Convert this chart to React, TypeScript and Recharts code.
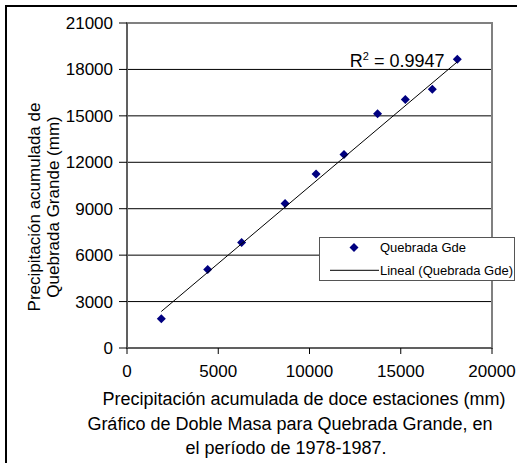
import React from "react";
import {
  ScatterChart,
  Scatter,
  XAxis,
  YAxis,
  CartesianGrid,
  Legend,
  ReferenceArea,
  ReferenceDot,
} from "recharts";

const doceEstaciones = [1880, 4420, 6280, 8660, 10360, 11890, 13730, 15250, 16730, 18100];
const quebradaGde = [1890, 5070, 6810, 9330, 11240, 12510, 15130, 16060, 16720, 18660];
const trendX = [1880, 18100];
const trendY = [2360, 18490];
const xTicks = [0, 5000, 10000, 15000, 20000];
const yTicks = [0, 3000, 6000, 9000, 12000, 15000, 18000, 21000];
const r2Label = { x: 17400, y: 18160, base: "R", sup: "2", rest: " = 0.9947" };
const seriesName = "Quebrada Gde";
const trendName = "Lineal (Quebrada Gde)";
const xTitle = "Precipitación acumulada de doce estaciones (mm)";
const captionLines = ["Gráfico de Doble Masa para Quebrada Grande, en", "el período de 1978-1987."];
const yTitleLines = ["Precipitación acumulada de", "Quebrada Grande (mm)"];

const points = doceEstaciones.map((x, i) => ({ x, y: quebradaGde[i] }));
const trend = trendX.map((x, i) => ({ x, y: trendY[i] }));

const FONT = '"Liberation Sans", Arial, sans-serif';
const NAVY = "#000080";

const Diamond = (props: any) => {
  const { cx, cy } = props;
  if (cx == null || cy == null) return null;
  const h = 4.5;
  return (
    <polygon
      points={`${cx},${cy - h} ${cx + h},${cy} ${cx},${cy + h} ${cx - h},${cy}`}
      fill={NAVY}
    />
  );
};

const XTitle = (props: any) => {
  const vb = props.viewBox || {};
  const y0 = vb.y ?? 348;
  return (
    <g fontFamily={FONT} fontSize={18} fill="#000">
      <text x={304} y={y0 + 57} textAnchor="middle">{xTitle}</text>
      <text x={290} y={y0 + 82} textAnchor="middle">{captionLines[0]}</text>
      <text x={286} y={y0 + 106} textAnchor="middle">{captionLines[1]}</text>
    </g>
  );
};

const YTitle = () => {
  const cy = 207;
  return (
    <g fontFamily={FONT} fontSize={17} fill="#000">
      <text x={40} y={cy} transform={`rotate(-90 40 ${cy})`} textAnchor="middle">
        {yTitleLines[0]}
      </text>
      <text x={59} y={cy} transform={`rotate(-90 59 ${cy})`} textAnchor="middle">
        {yTitleLines[1]}
      </text>
    </g>
  );
};

const R2Shape = (props: any) => {
  const { cx, cy } = props;
  if (cx == null || cy == null) return null;
  return (
    <text x={cx} y={cy} textAnchor="end" fontFamily={FONT} fontSize={18} fill="#000">
      {r2Label.base}
      <tspan dy={-7} fontSize={11}>{r2Label.sup}</tspan>
      <tspan dy={7}>{r2Label.rest}</tspan>
    </text>
  );
};

const LegendContent = (props: any) => {
  const payload = [...(props.payload || [])].sort(
    (a: any, b: any) => (a.type === "line" ? 1 : 0) - (b.type === "line" ? 1 : 0)
  );
  return (
    <div
      style={{
        width: 196,
        height: 44,
        border: "1.5px solid #555",
        boxSizing: "border-box",
        background: "#fff",
        position: "relative",
      }}
    >
      <svg width={196} height={44} style={{ position: "absolute", left: -1.5, top: -1.5 }}>
        {payload.map((p: any, i: number) => {
          const cy = i === 0 ? 10.6 : 33.3;
          const isLine = p.type === "line";
          return (
            <g key={i}>
              {isLine ? (
                <line x1={11} x2={60} y1={cy} y2={cy} stroke="#000" strokeWidth={1} />
              ) : (
                <Diamond cx={35} cy={cy} />
              )}
              <text x={61} y={cy} dy="0.36em" fontFamily={FONT} fontSize={13} fill="#000">
                {p.value}
              </text>
            </g>
          );
        })}
      </svg>
    </div>
  );
};

export default function App() {
  return (
    <div
      style={{
        position: "absolute",
        left: 0,
        top: 0,
        width: 517,
        height: 463,
        overflow: "hidden",
        background: "#fff",
      }}
    >
      <div
        style={{
          position: "absolute",
          left: 5,
          top: 5,
          width: 540,
          height: 500,
          border: "2px solid #000",
        }}
      />
      <div style={{ position: "absolute", left: 0, top: 0 }}>
        <ScatterChart
          width={517}
          height={463}
          margin={{ top: 23, right: 25, bottom: 0, left: 0 }}
        >
          <CartesianGrid horizontal vertical={false} stroke="#000" strokeWidth={1} />
          <ReferenceArea
            x1={0}
            x2={20000}
            y1={0}
            y2={21000}
            fill="none"
            fillOpacity={0}
            stroke="#808080"
            strokeWidth={2}
            ifOverflow="visible"
          />
          <XAxis
            type="number"
            dataKey="x"
            domain={[0, 20000]}
            ticks={xTicks}
            interval={0}
            height={115}
            tickSize={6}
            tickMargin={11}
            axisLine={{ stroke: "#606060", strokeWidth: 2 }}
            tickLine={{ stroke: "#000" }}
            tick={{ fill: "#000", fontSize: 17, fontFamily: FONT }}
            label={<XTitle />}
            allowDataOverflow
          />
          <YAxis
            type="number"
            dataKey="y"
            domain={[0, 21000]}
            ticks={yTicks}
            interval={0}
            width={127}
            tickSize={8}
            tickMargin={6}
            axisLine={{ stroke: "#606060", strokeWidth: 2 }}
            tickLine={{ stroke: "#000" }}
            tick={{ fill: "#000", fontSize: 17, fontFamily: FONT }}
            label={<YTitle />}
            allowDataOverflow
          />
          <Legend
            layout="vertical"
            align="center"
            verticalAlign="middle"
            content={<LegendContent />}
            wrapperStyle={{ left: 319, top: 237, width: 196, height: 44 }}
          />
          <Scatter
            name={seriesName}
            data={points}
            fill={NAVY}
            shape={<Diamond />}
            legendType="diamond"
            isAnimationActive={false}
          />
          <Scatter
            name={trendName}
            data={trend}
            line={{ stroke: "#000", strokeWidth: 1 }}
            shape={() => <g />}
            legendType="line"
            isAnimationActive={false}
          />
          <ReferenceDot
            x={r2Label.x}
            y={r2Label.y}
            r={0}
            shape={<R2Shape />}
            ifOverflow="visible"
          />
        </ScatterChart>
      </div>
    </div>
  );
}
